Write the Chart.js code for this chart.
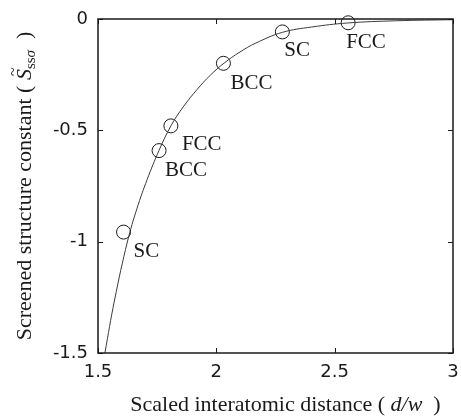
<!DOCTYPE html>
<html>
<head>
<meta charset="utf-8">
<script src="https://cdn.jsdelivr.net/npm/chart.js@4"></script>
<style>
  html, body { margin: 0; padding: 0; background: #fff; }
  #wrap { width: 461px; height: 416px; }
</style>
</head>
<body>
<div id="wrap"><canvas id="chart" width="461" height="416"></canvas></div>
<script>
// --- data ---
const curveX = [1.529, 1.570, 1.625, 1.665, 1.708, 1.758, 1.808, 1.860, 1.920, 1.975, 2.033, 2.100, 2.167, 2.279, 2.403, 2.554, 2.758, 3.0];
const curveY = [-1.5, -1.262, -0.997, -0.850, -0.720, -0.590, -0.480, -0.395, -0.315, -0.252, -0.198, -0.148, -0.108, -0.060, -0.036, -0.018, -0.008, -0.003];

const structX      = [1.608, 1.758, 1.808, 2.030, 2.279, 2.557];
const structY      = [-0.957, -0.591, -0.480, -0.199, -0.058, -0.017];
const structLabels = ['SC', 'BCC', 'FCC', 'BCC', 'SC', 'FCC'];

const xTicks = [1.5, 2, 2.5, 3];
const xTickLabels = ['1.5', '2', '2.5', '3'];
const yTicks = [0, -0.5, -1, -1.5];
const yTickLabels = ['0', '-0.5', '-1', '-1.5'];

// label placement relative to each circle (px): [dx to left edge, dy to middle]
const labelOffsets = [[10, 19], [6, 20], [11, 19], [7, 20], [2, 19], [-2, 20]];

const INK   = '#1a1a1a';
const SERIF = '"Liberation Serif", "Times New Roman", serif';
const SANS  = '"DejaVu Sans", sans-serif';

// frame + inward ticks on all four sides
const framePlugin = {
  id: 'frame',
  afterDatasetsDraw(chart) {
    const { ctx, chartArea: a, scales } = chart;
    ctx.save();
    ctx.strokeStyle = INK;
    ctx.lineWidth = 1;
    const len = 5;
    xTicks.forEach(v => {
      const px = Math.round(scales.x.getPixelForValue(v)) + 0.5;
      ctx.beginPath();
      ctx.moveTo(px, a.bottom); ctx.lineTo(px, a.bottom - len);
      ctx.moveTo(px, a.top);    ctx.lineTo(px, a.top + len);
      ctx.stroke();
    });
    yTicks.forEach(v => {
      const py = Math.round(scales.y.getPixelForValue(v)) + 0.5;
      ctx.beginPath();
      ctx.moveTo(a.left, py);  ctx.lineTo(a.left + len, py);
      ctx.moveTo(a.right, py); ctx.lineTo(a.right - len, py);
      ctx.stroke();
    });
    ctx.lineWidth = 1.5;
    ctx.strokeRect(a.left, a.top, a.right - a.left, a.bottom - a.top);
    ctx.restore();
  }
};

// structure labels next to the circles
const labelPlugin = {
  id: 'structLabels',
  afterDatasetsDraw(chart) {
    const { ctx } = chart;
    const meta = chart.getDatasetMeta(1);
    ctx.save();
    ctx.fillStyle = INK;
    ctx.font = '21px ' + SERIF;
    ctx.textAlign = 'left';
    ctx.textBaseline = 'middle';
    meta.data.forEach((pt, i) => {
      const [dx, dy] = labelOffsets[i];
      ctx.fillText(structLabels[i], pt.x + dx, pt.y + dy);
    });
    ctx.restore();
  }
};

// draw a row of mixed-font pieces starting at x, baseline y
function drawPieces(ctx, pieces, x, y) {
  pieces.forEach(p => {
    ctx.font = p.font;
    if (p.tilde) {
      ctx.save();
      ctx.font = p.tildeFont;
      ctx.fillText('~', x + p.tilde[0], y + p.tilde[1]);
      ctx.restore();
      ctx.font = p.font;
    }
    ctx.fillText(p.text, x, y + (p.dy || 0));
    x += ctx.measureText(p.text).width;
  });
}
function piecesWidth(ctx, pieces) {
  return pieces.reduce((w, p) => { ctx.font = p.font; return w + ctx.measureText(p.text).width; }, 0);
}

const titlePlugin = {
  id: 'titles',
  afterDraw(chart) {
    const { ctx, chartArea: a } = chart;
    ctx.save();
    ctx.fillStyle = INK;
    ctx.textBaseline = 'alphabetic';
    ctx.textAlign = 'left';

    const xPieces = [
      { text: 'Scaled interatomic distance ( ', font: '22px ' + SERIF },
      { text: 'd/w', font: 'italic 22px ' + SERIF },
      { text: '  )', font: '22px ' + SERIF }
    ];
    const wx = piecesWidth(ctx, xPieces);
    drawPieces(ctx, xPieces, (a.left + a.right) / 2 + 10 - wx / 2, 411);

    const yPieces = [
      { text: 'Screened structure constant ( ', font: '22px ' + SERIF },
      { text: 'S', font: 'italic 22px ' + SERIF, tilde: [4, -13], tildeFont: '16px ' + SERIF },
      { text: 'ss', font: '15px ' + SERIF, dy: 4 },
      { text: 'σ', font: 'italic 15px ' + SERIF, dy: 4 },
      { text: '  )', font: '22px ' + SERIF }
    ];
    const wy = piecesWidth(ctx, yPieces);
    ctx.translate(31, (a.top + a.bottom) / 2);
    ctx.rotate(-Math.PI / 2);
    drawPieces(ctx, yPieces, -wy / 2, 0);
    ctx.restore();
  }
};

new Chart(document.getElementById('chart'), {
  type: 'scatter',
  data: {
    datasets: [
      {
        label: 'curve',
        data: curveX.map((x, i) => ({ x, y: curveY[i] })),
        showLine: true,
        borderColor: '#3a3a3a',
        borderWidth: 1,
        pointRadius: 0,
        tension: 0.4
      },
      {
        label: 'structures',
        data: structX.map((x, i) => ({ x, y: structY[i] })),
        showLine: false,
        pointStyle: 'circle',
        pointRadius: 7,
        pointBorderWidth: 1,
        pointBorderColor: INK,
        pointBackgroundColor: 'rgba(0,0,0,0)',
        clip: false
      }
    ]
  },
  options: {
    responsive: false,
    animation: false,
    devicePixelRatio: 1,
    layout: { padding: { top: 19, right: 3, left: 0, bottom: 0 } },
    plugins: { legend: { display: false }, tooltip: { enabled: false } },
    scales: {
      x: {
        type: 'linear',
        min: 1.5, max: 3,
        grid: { display: false, drawTicks: false },
        border: { display: false },
        afterBuildTicks: s => { s.ticks = xTicks.map(v => ({ value: v })); },
        afterFit: s => { s.height = 63; s.paddingLeft = 0; s.paddingRight = 0; },
        ticks: {
          padding: 9,
          color: INK,
          font: { family: SANS, size: 18 },
          maxRotation: 0,
          callback: v => xTickLabels[xTicks.indexOf(v)] ?? ''
        }
      },
      y: {
        type: 'linear',
        min: -1.5, max: 0,
        grid: { display: false, drawTicks: false },
        border: { display: false },
        afterBuildTicks: s => { s.ticks = yTicks.map(v => ({ value: v })); },
        afterFit: s => { s.width = 98; s.paddingTop = 0; s.paddingBottom = 0; },
        ticks: {
          padding: 10,
          color: INK,
          font: { family: SANS, size: 18 },
          callback: v => yTickLabels[yTicks.indexOf(v)] ?? ''
        }
      }
    }
  },
  plugins: [framePlugin, labelPlugin, titlePlugin]
});
</script>
</body>
</html>
